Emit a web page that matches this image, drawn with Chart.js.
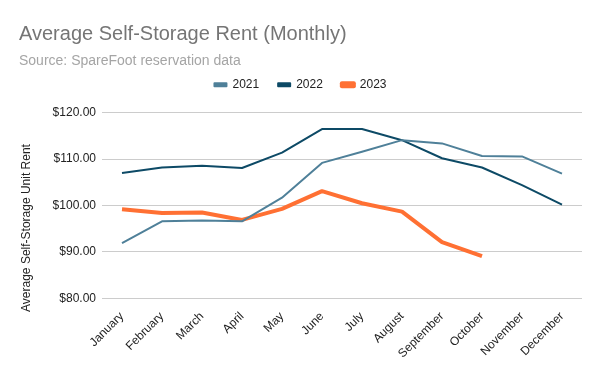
<!DOCTYPE html>
<html>
<head>
<meta charset="utf-8">
<script src="https://cdn.jsdelivr.net/npm/chart.js@4"></script>
<style>
  body { margin: 0; background: #fff; }
  #wrap { width: 600px; height: 371px; }
</style>
</head>
<body>
<div id="wrap"><canvas id="chart" width="600" height="371"></canvas></div>
<script>
const months = ['January', 'February', 'March', 'April', 'May', 'June', 'July',
  'August', 'September', 'October', 'November', 'December'];

const rent2021 = [91.9, 96.6, 96.8, 96.6, 101.7, 109.2, 111.6, 114.1, 113.4, 110.7, 110.6, 106.9];
const rent2022 = [107.0, 108.2, 108.6, 108.1, 111.4, 116.5, 116.5, 114.1, 110.2, 108.2, 104.4, 100.2];
const rent2023 = [99.2, 98.4, 98.5, 96.9, 99.3, 103.1, 100.5, 98.7, 92.1, 89.1];

const yTitle = 'Average Self-Storage Unit Rent';

function money(v) {
  return '$' + v.toFixed(2);
}

const font = 'Arial, "Liberation Sans", sans-serif';

// extra room under the legend, before the plot starts
const legendGap = {
  id: 'legendGap',
  beforeInit(chart) {
    const fit = chart.legend.fit;
    chart.legend.fit = function() {
      fit.call(this);
      this.height += 12;
    };
  }
};

// y axis title, centred lower like the sheets chart
const yTitlePlugin = {
  id: 'yTitle',
  afterDraw(chart) {
    const ctx = chart.ctx;
    ctx.save();
    ctx.translate(27, 228);
    ctx.rotate(-Math.PI / 2);
    ctx.font = '12px ' + font;
    ctx.fillStyle = '#222';
    ctx.textAlign = 'center';
    ctx.textBaseline = 'middle';
    ctx.fillText(yTitle, 0, 0);
    ctx.restore();
  }
};

new Chart(document.getElementById('chart'), {
  type: 'line',
  data: {
    labels: months,
    datasets: [
      { label: '2021', data: rent2021, borderColor: '#4f8099', backgroundColor: '#4f8099', borderWidth: 2 },
      { label: '2022', data: rent2022, borderColor: '#0d4a66', backgroundColor: '#0d4a66', borderWidth: 2 },
      { label: '2023', data: rent2023, borderColor: '#ff7033', backgroundColor: '#ff7033', borderWidth: 4 }
    ]
  },
  plugins: [legendGap, yTitlePlugin],
  options: {
    responsive: false,
    animation: false,
    elements: { point: { radius: 0 }, line: { tension: 0, borderJoinStyle: 'round' } },
    layout: { padding: { left: 19, right: 18, top: 0, bottom: 7 } },
    plugins: {
      title: {
        display: true,
        text: 'Average Self-Storage Rent (Monthly)',
        align: 'start',
        color: '#757575',
        font: { family: font, size: 20, weight: 'normal' },
        padding: { top: 22, bottom: 7 }
      },
      subtitle: {
        display: true,
        text: 'Source: SpareFoot reservation data',
        align: 'start',
        color: '#a5a5a5',
        font: { family: font, size: 14, weight: 'normal' },
        padding: { top: 0, bottom: -10 }
      },
      legend: {
        display: true,
        labels: {
          boxWidth: 12,
          boxHeight: 3,
          padding: 19,
          color: '#222',
          font: { family: font, size: 12 }
        }
      },
      tooltip: { enabled: false }
    },
    scales: {
      x: {
        offset: true,
        grid: { display: false },
        border: { display: false },
        ticks: {
          autoSkip: false,
          maxRotation: 45,
          minRotation: 45,
          color: '#222',
          font: { family: font, size: 12 }
        }
      },
      y: {
        min: 80,
        max: 120,
        grid: { color: '#cccccc', drawTicks: false },
        border: { display: false },
        afterFit(scale) { scale.width = 83; },
        ticks: {
          stepSize: 10,
          padding: 6,
          color: '#222',
          font: { family: font, size: 12 },
          callback: v => money(v)
        }
      }
    }
  }
});
</script>
</body>
</html>
